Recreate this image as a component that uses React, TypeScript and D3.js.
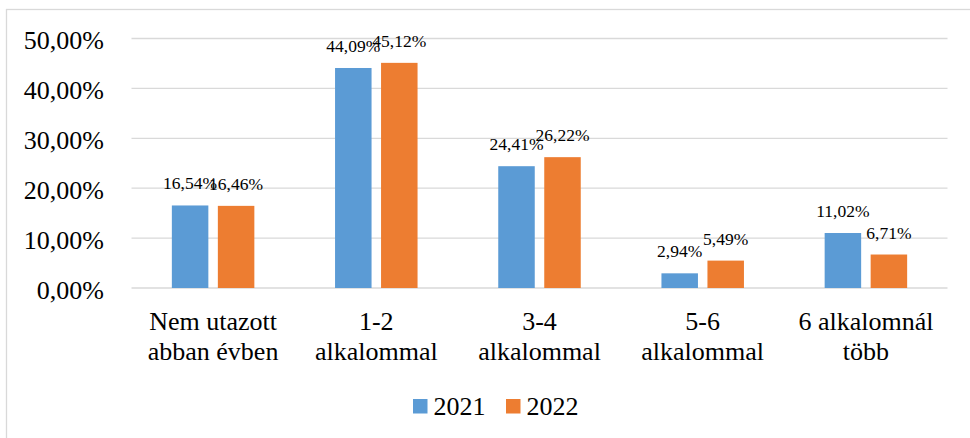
import React from "react";
import * as d3 from "d3";

const categories: string[][] = [
  ["Nem utazott", "abban évben"],
  ["1-2", "alkalommal"],
  ["3-4", "alkalommal"],
  ["5-6", "alkalommal"],
  ["6 alkalomnál", "több"],
];
const seriesNames = ["2021", "2022"];
const values2021 = [16.54, 44.09, 24.41, 2.94, 11.02];
const values2022 = [16.46, 45.12, 26.22, 5.49, 6.71];
const yTicks = [0, 10, 20, 30, 40, 50];
const colors = ["#5B9BD5", "#ED7D31"];

const W = 970;
const H = 438;
const fmt = (v: number) => v.toFixed(2).replace(".", ",") + "%";

export default function App() {
  const series = [values2021, values2022];
  const x0 = d3
    .scaleBand<number>()
    .domain(categories.map((_, i) => i))
    .range([131.5, 947.5])
    .paddingInner(0)
    .paddingOuter(0);
  const groupW = 82.5;
  const x1 = d3
    .scaleBand<number>()
    .domain(seriesNames.map((_, i) => i))
    .range([0, groupW])
    .paddingInner(0.2065)
    .paddingOuter(0);
  const y = d3.scaleLinear().domain([0, 50]).range([288, 38.5]);

  return (
    <svg width={W} height={H} style={{ position: "absolute", left: 0, top: 0 }}>
      <style>{`text { font-family: "Liberation Serif", "Times New Roman", serif; }`}</style>
      <rect x={0} y={0} width={W} height={H} fill="#fff" />
      <rect x={6.5} y={9.5} width={1200} height={1000} fill="none" stroke="#D9D9D9" strokeWidth={1.3} />
      {yTicks.map((t) => (
        <g key={t}>
          <line x1={131.5} x2={947.5} y1={y(t)} y2={y(t)} stroke="#D9D9D9" strokeWidth={1.3} />
          <text x={104} y={y(t) + 10.5} textAnchor="end" fontSize={26} fill="#000">
            {t.toFixed(2).replace(".", ",") + "%"}
          </text>
        </g>
      ))}
      {categories.map((cat, ci) => {
        const gx = x0(ci)! + (x0.bandwidth() - groupW) / 2;
        return (
          <g key={ci}>
            {series.map((vals, si) => {
              const bx = gx + x1(si)!;
              const by = y(vals[ci]);
              return (
                <g key={si}>
                  <rect x={bx} y={by} width={x1.bandwidth()} height={y(0) - by} fill={colors[si]} />
                  <text x={bx + x1.bandwidth() / 2} y={by - 16} textAnchor="middle" fontSize={17.5} fill="#000">
                    {fmt(vals[ci])}
                  </text>
                </g>
              );
            })}
            {cat.map((line, li) => (
              <text key={li} x={x0(ci)! + x0.bandwidth() / 2} y={330 + li * 30} textAnchor="middle" fontSize={26} fill="#000">
                {line}
              </text>
            ))}
          </g>
        );
      })}
      {seriesNames.map((name, si) => {
        const lx = si === 0 ? 413 : 506;
        return (
          <g key={name}>
            <rect x={lx} y={399} width={14.5} height={14.5} fill={colors[si]} />
            <text x={lx + 20.5} y={415} fontSize={26} fill="#000">
              {name}
            </text>
          </g>
        );
      })}
    </svg>
  );
}
